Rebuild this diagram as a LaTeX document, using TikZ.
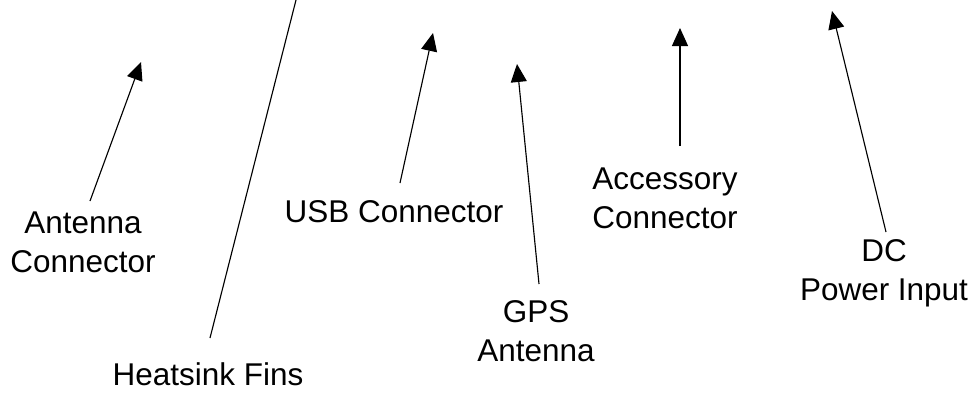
\documentclass[tikz,border=0pt]{standalone}
\usepackage{fontspec}
\setmainfont{Liberation Sans}
\usetikzlibrary{arrows.meta}
\begin{document}
\begin{tikzpicture}[x=0.75pt,y=-0.75pt,
  lbl/.style={inner sep=0pt, align=center, anchor=base, font=\fontsize{23.6pt}{29.25pt}\selectfont},
  ptr/.style={line width=0.85pt, -{Triangle[length=13.5pt,width=12pt]}},
  lin/.style={line width=0.85pt}]
\useasboundingbox (0,0) rectangle (977,394);
% labels (anchor at baseline of last line)
\node[lbl] (ant) at (83,272) {Antenna\\Connector};
\node[lbl] (heat) at (208,385) {Heatsink Fins};
\node[lbl] (usb) at (394,222) {USB Connector};
\node[lbl] (gps) at (536,361) {GPS\\Antenna};
\node[lbl] (acc) at (665,228) {Accessory\\Connector};
\node[lbl] (dc) at (884,300) {DC\\Power Input};
% connector ends
\coordinate (antT) at (90,201);   \coordinate (antH) at (141,62);
\coordinate (heatT) at (210,338); \coordinate (heatH) at (296,0);
\coordinate (usbT) at (400,183);  \coordinate (usbH) at (433,33);
\coordinate (gpsT) at (539,284);  \coordinate (gpsH) at (517,64);
\coordinate (accT) at (680,146);  \coordinate (accH) at (680,28);
\coordinate (dcT) at (886,232);   \coordinate (dcH) at (832,11);
\draw[ptr] (antT) -- (antH);
\draw[lin] (heatT) -- (heatH);
\draw[ptr] (usbT) -- (usbH);
\draw[ptr] (gpsT) -- (gpsH);
\draw[ptr] (accT) -- (accH);
\draw[ptr] (dcT) -- (dcH);
\end{tikzpicture}
\end{document}
